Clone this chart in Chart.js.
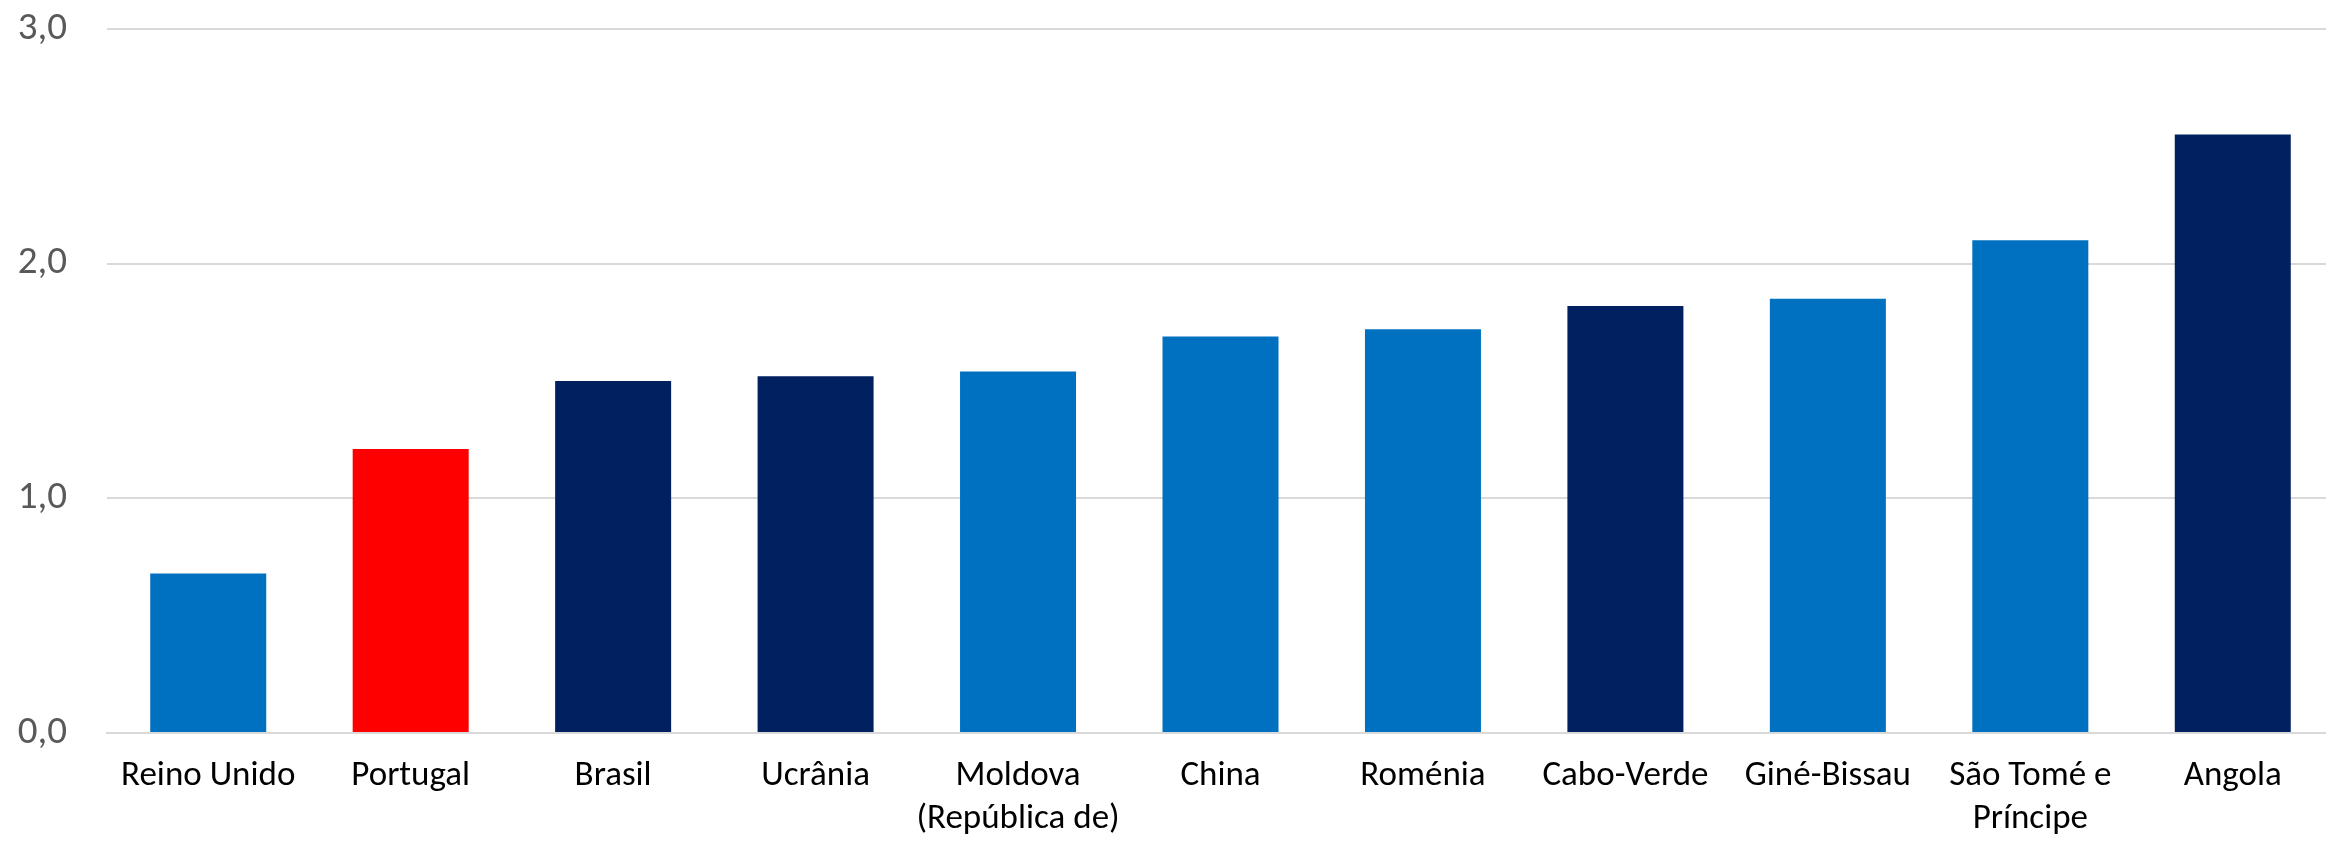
<!DOCTYPE html>
<html>
<head>
<meta charset="utf-8">
<script src="https://cdn.jsdelivr.net/npm/chart.js@4.4.0/dist/chart.umd.min.js"></script>
<style>
  html, body { margin: 0; padding: 0; background: #ffffff; overflow: hidden; }
  #wrap { width: 2334px; height: 841px; position: relative; }
</style>
</head>
<body>
<div id="wrap"><canvas id="c"></canvas></div>
<script>
const categories = ["Reino Unido", "Portugal", "Brasil", "Ucrânia", ["Moldova", "(República de)"], "China", "Roménia", "Cabo-Verde", "Giné-Bissau", ["São Tomé e", "Príncipe"], "Angola"];
const values = [0.68, 1.21, 1.50, 1.52, 1.54, 1.69, 1.72, 1.82, 1.85, 2.10, 2.55];
const barColors = ["#0070C0", "#FF0000", "#002060", "#002060", "#0070C0", "#0070C0", "#0070C0", "#002060", "#0070C0", "#0070C0", "#002060"];
const yTicks = [0, 1, 2, 3];

const FONT = "Carlito, Calibri, Lato, 'Open Sans', sans-serif";

new Chart(document.getElementById('c'), {
  type: 'bar',
  data: {
    labels: categories,
    datasets: [{
      data: values,
      backgroundColor: barColors,
      borderWidth: 0,
      barPercentage: 0.573,
      categoryPercentage: 1.0
    }]
  },
  options: {
    responsive: true,
    maintainAspectRatio: false,
    animation: false,
    devicePixelRatio: 1,
    layout: { padding: { top: 29, right: 0, bottom: 0, left: 0 } },
    plugins: { legend: { display: false }, tooltip: { enabled: false } },
    scales: {
      x: {
        grid: { display: false, drawTicks: false },
        border: { display: true, color: '#D9D9D9', width: 2 },
        ticks: {
          color: '#000000',
          font: { family: FONT, size: 35, lineHeight: 1.25 },
          padding: 21,
          maxRotation: 0,
          autoSkip: false
        },
        afterFit(scale) { scale.height = 108; scale.paddingLeft = 0; scale.paddingRight = 0; }
      },
      y: {
        min: 0,
        max: 3,
        afterBuildTicks(scale) { scale.ticks = yTicks.map(v => ({ value: v })); },
        grid: { color: '#D9D9D9', lineWidth: 2, drawTicks: false },
        border: { display: false },
        ticks: {
          color: '#595959',
          font: { family: FONT, size: 39 },
          padding: 40,
          callback: v => v.toFixed(1).replace('.', ',')
        },
        afterFit(scale) { scale.width = 107; scale.paddingTop = 0; scale.paddingBottom = 0; }
      }
    }
  }
});
</script>
</body>
</html>
